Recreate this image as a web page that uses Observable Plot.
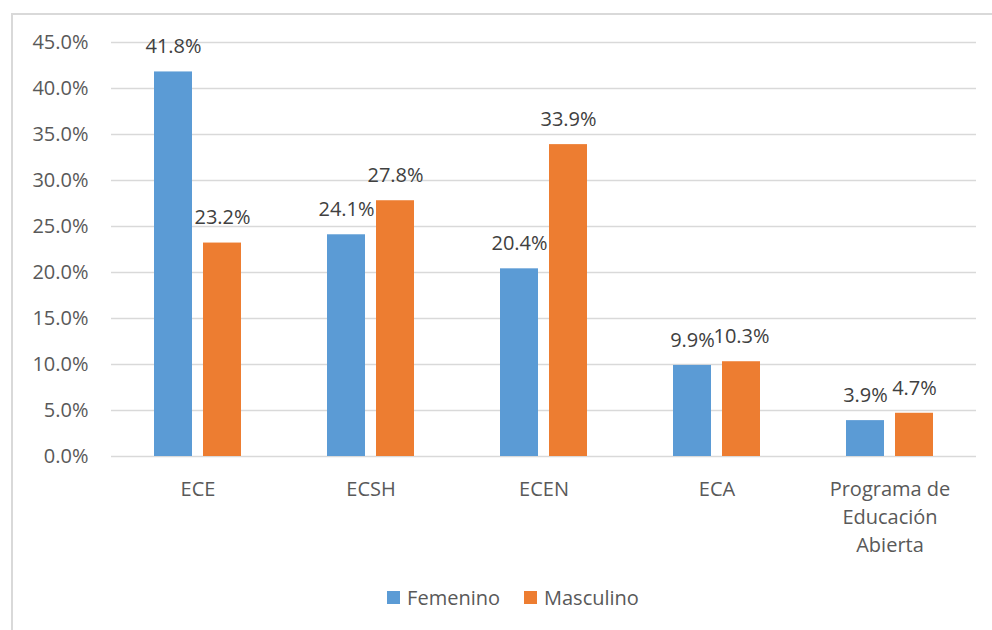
<!DOCTYPE html>
<html>
<head>
<meta charset="utf-8">
<script src="https://cdn.jsdelivr.net/npm/d3@7"></script>
<script src="https://cdn.jsdelivr.net/npm/@observablehq/plot@0.6"></script>
<style>
  html, body { margin: 0; padding: 0; background: #fff; }
  body { width: 992px; height: 630px; position: relative; overflow: hidden; font-family: "Open Sans", "Noto Sans", sans-serif; }
  #frame { position: absolute; left: 11px; top: 13px; width: 990px; height: 640px; border-left: 2px solid #d9d9d9; border-top: 2px solid #d9d9d9; box-sizing: border-box; }
  #chart { position: absolute; left: 0; top: 0; }
  #legend { position: absolute; top: 584px; left: 0; width: 1026px; display: flex; justify-content: center; gap: 24px; font-size: 20px; color: #595959; }
  #legend span.item { display: flex; align-items: center; }
  #legend span.sw { display: inline-block; width: 13px; height: 13px; margin-right: 7px; }
</style>
</head>
<body>
<div id="frame"></div>
<div id="chart"></div>
<div id="legend"></div>
<script>
const categories = ["ECE", "ECSH", "ECEN", "ECA", "Programa de Educación Abierta"];
const tickLabels = ["ECE", "ECSH", "ECEN", "ECA", "Programa de\nEducación\nAbierta"];
const series = ["Femenino", "Masculino"];
const colors = ["#5b9bd5", "#ed7d31"];
const femenino = [41.8, 24.1, 20.4, 9.9, 3.9];
const masculino = [23.2, 27.8, 33.9, 10.3, 4.7];
const yTicks = [0, 5, 10, 15, 20, 25, 30, 35, 40, 45];

const data = categories.flatMap((c, i) => [
  {cat: c, sex: series[0], v: femenino[i]},
  {cat: c, sex: series[1], v: masculino[i]}
]);

const fmt = d => d.toFixed(1) + "%";

const chart = Plot.plot({
  width: 992,
  height: 560,
  marginLeft: 110,
  marginRight: 15,
  marginTop: 42,
  marginBottom: 104,
  style: {fontFamily: "'Open Sans', 'Noto Sans', sans-serif", background: "transparent"},
  fx: {domain: categories, padding: 0, label: null, axis: null},
  x: {domain: series, paddingInner: 0.22, paddingOuter: 0.844, axis: null},
  y: {domain: [0, 45], label: null, axis: null},
  color: {domain: series, range: colors},
  marks: [
    Plot.gridY(yTicks, {stroke: "#d9d9d9", strokeOpacity: 1, strokeWidth: 1.5}),
    Plot.axisY(yTicks, {tickSize: 0, tickPadding: 23, fontSize: 20, fill: "#595959", tickFormat: fmt, label: null}),
    Plot.barY(data, {fx: "cat", x: "sex", y: "v", fill: "sex"}),
    Plot.text(data, {fx: "cat", x: "sex", y: "v", text: d => fmt(d.v), dy: -25, fontSize: 20, fill: "#404040"}),
    Plot.axisFx({anchor: "bottom", tickSize: 0, tickPadding: 20, fontSize: 20, lineHeight: 1.4, fill: "#595959", lineAnchor: "top",
      tickFormat: c => tickLabels[categories.indexOf(c)], label: null})
  ]
});
document.getElementById("chart").appendChild(chart);

const legend = document.getElementById("legend");
series.forEach((s, i) => {
  const item = document.createElement("span");
  item.className = "item";
  const sw = document.createElement("span");
  sw.className = "sw";
  sw.style.background = colors[i];
  item.appendChild(sw);
  item.appendChild(document.createTextNode(s));
  legend.appendChild(item);
});
</script>
</body>
</html>
